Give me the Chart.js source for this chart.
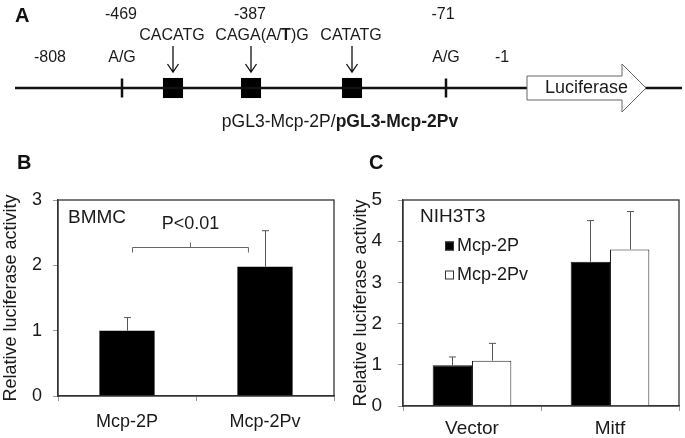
<!DOCTYPE html>
<html><head><meta charset="utf-8">
<script src="https://cdn.jsdelivr.net/npm/chart.js@4.4.0/dist/chart.umd.min.js"></script>
<style>
html,body{margin:0;padding:0;background:#fff;}
body{width:685px;height:438px;position:relative;overflow:hidden;}
canvas{position:absolute;}
</style></head><body>
<canvas id="cA" width="685" height="140" style="left:0;top:0"></canvas>
<canvas id="cB" width="340" height="298" style="left:0;top:140px"></canvas>
<canvas id="cC" width="345" height="298" style="left:340px;top:140px"></canvas>
<script>
// ---------- Panel A: promoter schematic (positions along the diagram) ----------
const backboneX = [15, 682];
const coordLabels = ['-808', '-469', '-387', '-71', '-1'];
const coordX = [50, 121, 250, 443, 502];
const coordRow = ['low', 'high', 'high', 'high', 'low'];
const snpLabels = ['A/G', 'A/G'];
const snpX = [122, 446];
const motifLabels = ['CACATG', 'CAGA(A/**T**)G', 'CATATG'];
const motifX = [173, 251, 352];
const motifLabelX = [172, 262, 351];
const reporterLabel = 'Luciferase';
const reporterX = [527, 646];
const constructLabel = 'pGL3-Mcp-2P/**pGL3-Mcp-2Pv**';

// ---------- Panel B: BMMC ----------
const bmmcCategories = ['Mcp-2P', 'Mcp-2Pv'];
const bmmcValues = [1.0, 1.98];
const bmmcErrors = [0.2, 0.55];
const bmmcYTicks = [0, 1, 2, 3];
const bmmcSignif = 'P<0.01';
const bmmcBracket = [0.04, 0.88]; // category positions
const bmmcBracketY = 2.28;

// ---------- Panel C: NIH3T3 ----------
const nihCategories = ['Vector', 'Mitf'];
const seriesNames = ['Mcp-2P', 'Mcp-2Pv'];
const mcp2pValues = [0.99, 3.5];
const mcp2pErrors = [0.2, 1.0];
const mcp2pvValues = [1.1, 3.8];
const mcp2pvErrors = [0.42, 0.92];
const nihYTicks = [0, 1, 2, 3, 4, 5];

const FAMILY = '"Liberation Sans", Arial, Helvetica, sans-serif';
const TXT = '#1a1a1a';
Chart.defaults.font.family = FAMILY;
Chart.defaults.color = TXT;

function drawRich(ctx, text, cx, cy, size) {
  const parts = text.split('**');
  let total = 0;
  const widths = parts.map((p, i) => {
    ctx.font = (i % 2 ? 'bold ' : '') + size + 'px ' + FAMILY;
    const w = ctx.measureText(p).width; total += w; return w;
  });
  let x = cx - total / 2;
  ctx.textAlign = 'left'; ctx.textBaseline = 'middle';
  parts.forEach((p, i) => {
    ctx.font = (i % 2 ? 'bold ' : '') + size + 'px ' + FAMILY;
    ctx.fillText(p, x, cy); x += widths[i];
  });
}

function panelLabel(letter, x, y) {
  return {
    id: 'panelLabel' + letter,
    afterDraw(chart) {
      const ctx = chart.ctx; ctx.save();
      ctx.fillStyle = '#111'; ctx.font = 'bold 20px ' + FAMILY;
      ctx.textAlign = 'left'; ctx.textBaseline = 'middle';
      ctx.fillText(letter, x, y); ctx.restore();
    }
  };
}

// rows of the schematic (vertical layout)
const ROW = { high: 15, motif: 36, low: 58, line: 88, construct: 122 };

const schematicPlugin = {
  id: 'schematic',
  afterDatasetsDraw(chart) {
    const ctx = chart.ctx, xs = chart.scales.x, ys = chart.scales.y;
    ctx.save();
    ctx.fillStyle = TXT;
    coordLabels.forEach((t, i) => drawRich(ctx, t, xs.getPixelForValue(coordX[i]), ys.getPixelForValue(ROW[coordRow[i]]), 16));
    snpLabels.forEach((t, i) => drawRich(ctx, t, xs.getPixelForValue(snpX[i]), ys.getPixelForValue(ROW.low), 16));
    motifLabels.forEach((t, i) => drawRich(ctx, t, xs.getPixelForValue(motifLabelX[i]), ys.getPixelForValue(ROW.motif), 16));
    // arrows to motifs
    ctx.strokeStyle = '#111'; ctx.lineWidth = 1.3;
    motifX.forEach(mx => {
      const x = xs.getPixelForValue(mx);
      const y0 = ys.getPixelForValue(ROW.motif + 10), y1 = ys.getPixelForValue(ROW.line - 16);
      ctx.beginPath(); ctx.moveTo(x, y0); ctx.lineTo(x, y1);
      ctx.moveTo(x - 5.5, y1 - 8); ctx.lineTo(x, y1); ctx.lineTo(x + 5.5, y1 - 8);
      ctx.stroke();
    });
    // luciferase arrow
    const x0 = xs.getPixelForValue(reporterX[0]), x1 = xs.getPixelForValue(reporterX[1]);
    const yc = ys.getPixelForValue(ROW.line), hb = 12, hh = 24, hx = x1 - 24;
    ctx.beginPath();
    ctx.moveTo(x0, yc - hb); ctx.lineTo(hx, yc - hb); ctx.lineTo(hx, yc - hh); ctx.lineTo(x1, yc);
    ctx.lineTo(hx, yc + hh); ctx.lineTo(hx, yc + hb); ctx.lineTo(x0, yc + hb); ctx.closePath();
    ctx.fillStyle = '#fff'; ctx.fill(); ctx.strokeStyle = '#666'; ctx.lineWidth = 1; ctx.stroke();
    ctx.fillStyle = TXT;
    drawRich(ctx, reporterLabel, (x0 + x1) / 2, yc, 18);
    drawRich(ctx, constructLabel, xs.getPixelForValue(340), ys.getPixelForValue(ROW.construct), 17.5);
    ctx.restore();
  }
};

new Chart(document.getElementById('cA'), {
  type: 'scatter',
  data: {
    datasets: [
      { type: 'line', data: backboneX.map(x => ({ x, y: ROW.line })), borderColor: '#111', borderWidth: 2.7, pointRadius: 0 },
      { data: snpX.map(x => ({ x, y: ROW.line })), pointStyle: 'line', pointRotation: 90, pointRadius: 9.5, pointBorderWidth: 2.5, pointBorderColor: '#111', showLine: false },
      { data: motifX.map(x => ({ x, y: ROW.line })), pointStyle: 'rect', pointRadius: 14.2, pointBackgroundColor: '#000', pointBorderWidth: 0, showLine: false }
    ]
  },
  options: {
    responsive: false, animation: false, events: [],
    layout: { padding: 0, autoPadding: false },
    plugins: { legend: { display: false }, tooltip: { enabled: false } },
    scales: {
      x: { type: 'linear', min: 0, max: 685, display: false },
      y: { type: 'linear', min: 0, max: 140, reverse: true, display: false }
    }
  },
  plugins: [schematicPlugin, panelLabel('A', 15, 16)]
});

// ---------- shared plugins for bar panels ----------
const errorBars = {
  id: 'errorBars',
  afterDatasetsDraw(chart) {
    const ctx = chart.ctx, y = chart.scales.y;
    ctx.save(); ctx.strokeStyle = '#555'; ctx.lineWidth = 1;
    chart.data.datasets.forEach((ds, i) => {
      if (!ds.errors) return;
      chart.getDatasetMeta(i).data.forEach((bar, j) => {
        const top = y.getPixelForValue(ds.data[j] + ds.errors[j]);
        const x = Math.round(bar.x) + 0.5;
        ctx.beginPath(); ctx.moveTo(x, bar.y); ctx.lineTo(x, top);
        ctx.moveTo(x - 3.5, top); ctx.lineTo(x + 3.5, top); ctx.stroke();
      });
    });
    ctx.restore();
  }
};
const frame = {
  id: 'frame',
  afterDatasetsDraw(chart) {
    const a = chart.chartArea, ctx = chart.ctx;
    ctx.save(); ctx.strokeStyle = '#333'; ctx.lineWidth = 1.3;
    ctx.strokeRect(a.left, a.top, a.right - a.left, a.bottom - a.top);
    ctx.restore();
  }
};

function yAxis(ticksArr, width, pad, titlePad, size) {
  return {
    min: ticksArr[0], max: ticksArr[ticksArr.length - 1],
    afterBuildTicks(s) { s.ticks = ticksArr.map(v => ({ value: v })); },
    ticks: { font: { size: size }, color: TXT, padding: pad },
    grid: { drawOnChartArea: false, drawTicks: true, tickLength: 5, color: '#999' },
    border: { color: '#333', width: 1.3 },
    title: { display: true, text: 'Relative luciferase activity', font: { size: 18 }, color: TXT, padding: { top: titlePad, bottom: 0 } },
    afterFit(s) { s.width = width; }
  };
}
function xAxis(height, pad, size) {
  return {
    offset: true,
    grid: { offset: true, drawOnChartArea: false, drawTicks: true, tickLength: 5, color: '#999' },
    border: { color: '#333', width: 1.3 },
    ticks: { font: { size: size }, color: TXT, padding: pad },
    afterFit(s) { s.height = height; }
  };
}

// ---------- Panel B ----------
const bmmcNotes = {
  id: 'bmmcNotes',
  afterDatasetsDraw(chart) {
    const ctx = chart.ctx, a = chart.chartArea, xs = chart.scales.x, ys = chart.scales.y;
    ctx.save(); ctx.fillStyle = TXT;
    ctx.font = '19px ' + FAMILY; ctx.textAlign = 'left'; ctx.textBaseline = 'middle';
    ctx.fillText('BMMC', a.left + 10, a.top + 17.5);
    const bx0 = xs.getPixelForValue(bmmcBracket[0]), bx1 = xs.getPixelForValue(bmmcBracket[1]);
    const by = Math.round(ys.getPixelForValue(bmmcBracketY)) + 0.5, bm = (bx0 + bx1) / 2;
    ctx.strokeStyle = '#666'; ctx.lineWidth = 1;
    ctx.beginPath();
    ctx.moveTo(bx0, by + 5); ctx.lineTo(bx0, by); ctx.lineTo(bx1, by); ctx.lineTo(bx1, by + 5);
    ctx.moveTo(bm, by); ctx.lineTo(bm, by - 5); ctx.stroke();
    drawRich(ctx, bmmcSignif, bm, by - 23, 18);
    ctx.restore();
  }
};
new Chart(document.getElementById('cB'), {
  type: 'bar',
  data: {
    labels: bmmcCategories,
    datasets: [{ data: bmmcValues, errors: bmmcErrors, backgroundColor: '#000', borderWidth: 0, categoryPercentage: 0.4, barPercentage: 1.0 }]
  },
  options: {
    responsive: false, animation: false, events: [],
    layout: { padding: { top: 60, right: 6, left: 0, bottom: 0 } },
    plugins: { legend: { display: false }, tooltip: { enabled: false } },
    scales: { x: xAxis(42, 10, 18), y: yAxis(bmmcYTicks, 58, 11, 0, 18) }
  },
  plugins: [frame, errorBars, bmmcNotes, panelLabel('B', 17, 23)]
});

// ---------- Panel C ----------
const nihLegend = {
  id: 'nihLegend',
  afterDatasetsDraw(chart) {
    const ctx = chart.ctx, a = chart.chartArea;
    ctx.save(); ctx.fillStyle = TXT; ctx.textAlign = 'left'; ctx.textBaseline = 'middle';
    ctx.font = '19px ' + FAMILY;
    ctx.fillText('NIH3T3', a.left + 17, a.top + 16.5);
    ctx.font = '18px ' + FAMILY;
    chart.data.datasets.forEach((ds, i) => {
      const cy = a.top + 46 + i * 29;
      ctx.fillStyle = ds.backgroundColor; ctx.fillRect(a.left + 42, cy - 4.5, 9, 9);
      ctx.strokeStyle = '#333'; ctx.lineWidth = 1; ctx.strokeRect(a.left + 42.5, cy - 4, 8, 8);
      ctx.fillStyle = TXT; ctx.fillText(ds.label, a.left + 54, cy);
    });
    ctx.restore();
  }
};
new Chart(document.getElementById('cC'), {
  type: 'bar',
  data: {
    labels: nihCategories,
    datasets: [
      { label: seriesNames[0], data: mcp2pValues, errors: mcp2pErrors, backgroundColor: '#000', borderColor: '#111', borderWidth: 1, categoryPercentage: 0.57, barPercentage: 1.0 },
      { label: seriesNames[1], data: mcp2pvValues, errors: mcp2pvErrors, backgroundColor: '#fff', borderColor: '#222', borderWidth: 1, categoryPercentage: 0.57, barPercentage: 1.0 }
    ]
  },
  options: {
    responsive: false, animation: false, events: [],
    layout: { padding: { top: 60, right: 6, left: 0, bottom: 0 } },
    plugins: { legend: { display: false }, tooltip: { enabled: false } },
    scales: { x: xAxis(32, 6, 19), y: yAxis(nihYTicks, 63, 16, 10, 19) }
  },
  plugins: [frame, errorBars, nihLegend, panelLabel('C', 29, 23)]
});
</script>
</body></html>
